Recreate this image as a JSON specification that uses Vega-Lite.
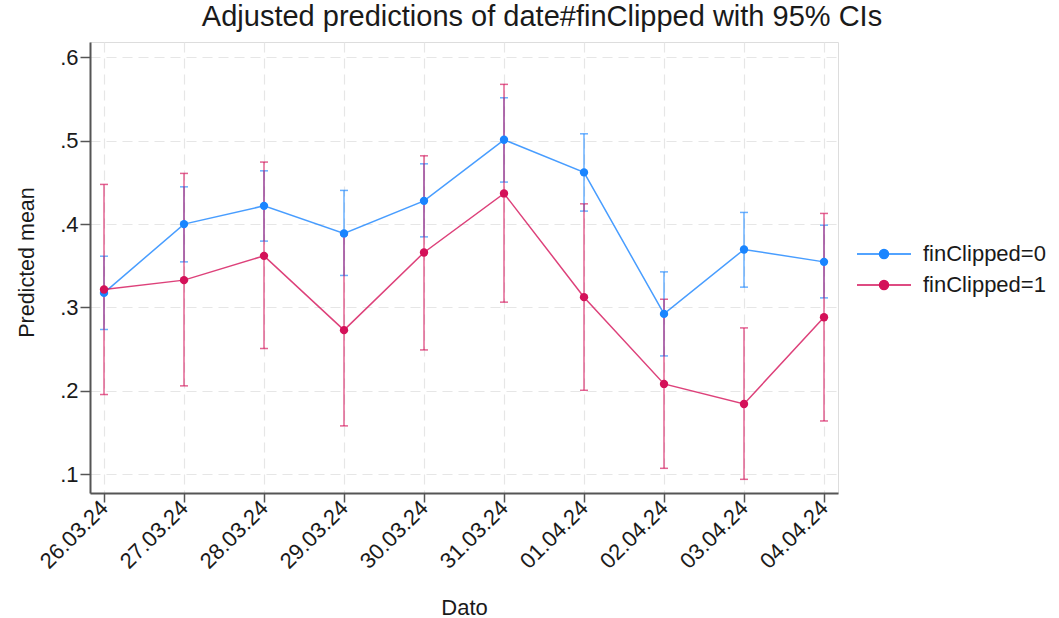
{
  "$schema": "https://vega.github.io/schema/vega-lite/v6.json",
  "autosize": {"type": "none"},
  "width": 748,
  "height": 451,
  "padding": {"left": 90, "top": 42, "right": 221, "bottom": 125},
  "background": "white",
  "title": {
    "text": "Adjusted predictions of date#finClipped with 95% CIs",
    "font": "Liberation Sans",
    "fontSize": 29,
    "fontWeight": "normal",
    "color": "#1a1a1a",
    "anchor": "middle",
    "frame": "group",
    "dx": 78,
    "baseline": "alphabetic",
    "offset": -13
  },
  "data": {
    "values": [
      {"date": "26.03.24", "grp": "finClipped=0", "mean": 0.3175, "lo": 0.2736, "hi": 0.3615},
      {"date": "27.03.24", "grp": "finClipped=0", "mean": 0.4000, "lo": 0.3547, "hi": 0.4447},
      {"date": "28.03.24", "grp": "finClipped=0", "mean": 0.4219, "lo": 0.3796, "hi": 0.4639},
      {"date": "29.03.24", "grp": "finClipped=0", "mean": 0.3888, "lo": 0.3384, "hi": 0.4404},
      {"date": "30.03.24", "grp": "finClipped=0", "mean": 0.4279, "lo": 0.3847, "hi": 0.4723},
      {"date": "31.03.24", "grp": "finClipped=0", "mean": 0.5011, "lo": 0.4504, "hi": 0.5515},
      {"date": "01.04.24", "grp": "finClipped=0", "mean": 0.4620, "lo": 0.4156, "hi": 0.5083},
      {"date": "02.04.24", "grp": "finClipped=0", "mean": 0.2923, "lo": 0.2419, "hi": 0.3427},
      {"date": "03.04.24", "grp": "finClipped=0", "mean": 0.3696, "lo": 0.3244, "hi": 0.4140},
      {"date": "04.04.24", "grp": "finClipped=0", "mean": 0.3547, "lo": 0.3115, "hi": 0.3987},
      {"date": "26.03.24", "grp": "finClipped=1", "mean": 0.3215, "lo": 0.1956, "hi": 0.4476},
      {"date": "27.03.24", "grp": "finClipped=1", "mean": 0.3328, "lo": 0.2060, "hi": 0.4608},
      {"date": "28.03.24", "grp": "finClipped=1", "mean": 0.3619, "lo": 0.2508, "hi": 0.4744},
      {"date": "29.03.24", "grp": "finClipped=1", "mean": 0.2728, "lo": 0.1580, "hi": 0.3870},
      {"date": "30.03.24", "grp": "finClipped=1", "mean": 0.3660, "lo": 0.2491, "hi": 0.4819},
      {"date": "31.03.24", "grp": "finClipped=1", "mean": 0.4368, "lo": 0.3064, "hi": 0.5676},
      {"date": "01.04.24", "grp": "finClipped=1", "mean": 0.3124, "lo": 0.2007, "hi": 0.4243},
      {"date": "02.04.24", "grp": "finClipped=1", "mean": 0.2083, "lo": 0.1071, "hi": 0.3099},
      {"date": "03.04.24", "grp": "finClipped=1", "mean": 0.1843, "lo": 0.0939, "hi": 0.2755},
      {"date": "04.04.24", "grp": "finClipped=1", "mean": 0.2883, "lo": 0.1639, "hi": 0.4128}
    ]
  },
  "encoding": {
    "x": {
      "field": "date",
      "type": "ordinal",
      "sort": ["26.03.24","27.03.24","28.03.24","29.03.24","30.03.24","31.03.24","01.04.24","02.04.24","03.04.24","04.04.24"],
      "scale": {"type": "point", "padding": 0.175},
      "axis": {
        "title": "Dato",
        "titleFont": "Liberation Sans",
        "titleFontSize": 22,
        "titleFontWeight": "normal",
        "titleColor": "#1a1a1a",
        "titleX": 374,
        "titleY": 121,
        "titleAlign": "center",
        "titleBaseline": "alphabetic",
        "labelFont": "Liberation Sans",
        "labelFontSize": 22,
        "labelColor": "#1a1a1a",
        "labelAngle": -45,
        "labelAlign": "right",
        "labelBaseline": "middle",
        "labelPadding": 2,
        "tickSize": 9,
        "tickWidth": 1.5,
        "tickColor": "#555555",
        "domainColor": "#555555",
        "domainWidth": 2,
        "grid": true,
        "gridColor": "#e6e6e6",
        "gridWidth": 1.2,
        "gridDash": [10, 6]
      }
    },
    "color": {
      "field": "grp",
      "type": "nominal",
      "scale": {"domain": ["finClipped=0", "finClipped=1"], "range": ["#1a85ff", "#d41159"]},
      "legend": {
        "title": null,
        "orient": "none",
        "legendX": 767,
        "legendY": 201,
        "symbolType": "M-5.4,0L5.4,0M-0.9,0A0.9,0.9,0,1,0,0.9,0A0.9,0.9,0,1,0,-0.9,0Z",
        "symbolSize": 100,
        "symbolStrokeWidth": 1.5,
        "symbolOpacity": 1,
        "symbolOffset": 16,
        "labelOffset": 28,
        "labelFont": "Liberation Sans",
        "labelFontSize": 22,
        "labelColor": "#1a1a1a",
        "rowPadding": 9,
        "encode": {
          "symbols": {
            "update": {
              "fill": {"scale": "color", "field": "value"},
              "stroke": {"scale": "color", "field": "value"},
              "opacity": {"value": 1},
              "fillOpacity": {"value": 1},
              "strokeOpacity": {"value": 1}
            }
          }
        }
      }
    }
  },
  "layer": [
    {
      "mark": {"type": "errorbar", "thickness": 1.5, "opacity": 0.65, "ticks": {"size": 8, "thickness": 1.5}},
      "encoding": {
        "y": {
          "field": "lo",
          "type": "quantitative",
          "scale": {"domain": [0.0775, 0.6184], "nice": false, "zero": false},
          "axis": {
            "title": "Predicted mean",
            "titleFont": "Liberation Sans",
            "titleFontSize": 21.5,
            "titleFontWeight": "normal",
            "titleColor": "#1a1a1a",
            "titleX": -57,
            "titleY": 220,
            "titleAlign": "center",
            "titleBaseline": "alphabetic",
            "titleAngle": -90,
            "values": [0.1, 0.2, 0.3, 0.4, 0.5, 0.6],
            "labelExpr": "replace(format(datum.value, '.1f'), '0.', '.')",
            "labelFont": "Liberation Sans",
            "labelFontSize": 22,
            "labelColor": "#1a1a1a",
            "labelAngle": 0,
            "labelPadding": 2,
            "tickSize": 10,
            "tickWidth": 1.5,
            "tickColor": "#555555",
            "domainColor": "#555555",
            "domainWidth": 2,
            "grid": true,
            "gridColor": "#e6e6e6",
            "gridWidth": 1.2,
            "gridDash": [10, 6]
          }
        },
        "y2": {"field": "hi"}
      }
    },
    {
      "mark": {"type": "line", "strokeWidth": 1.5, "opacity": 0.8},
      "encoding": {"y": {"field": "mean", "type": "quantitative"}}
    },
    {
      "mark": {"type": "point", "filled": true, "size": 70, "opacity": 1},
      "encoding": {"y": {"field": "mean", "type": "quantitative"}}
    }
  ]
}
